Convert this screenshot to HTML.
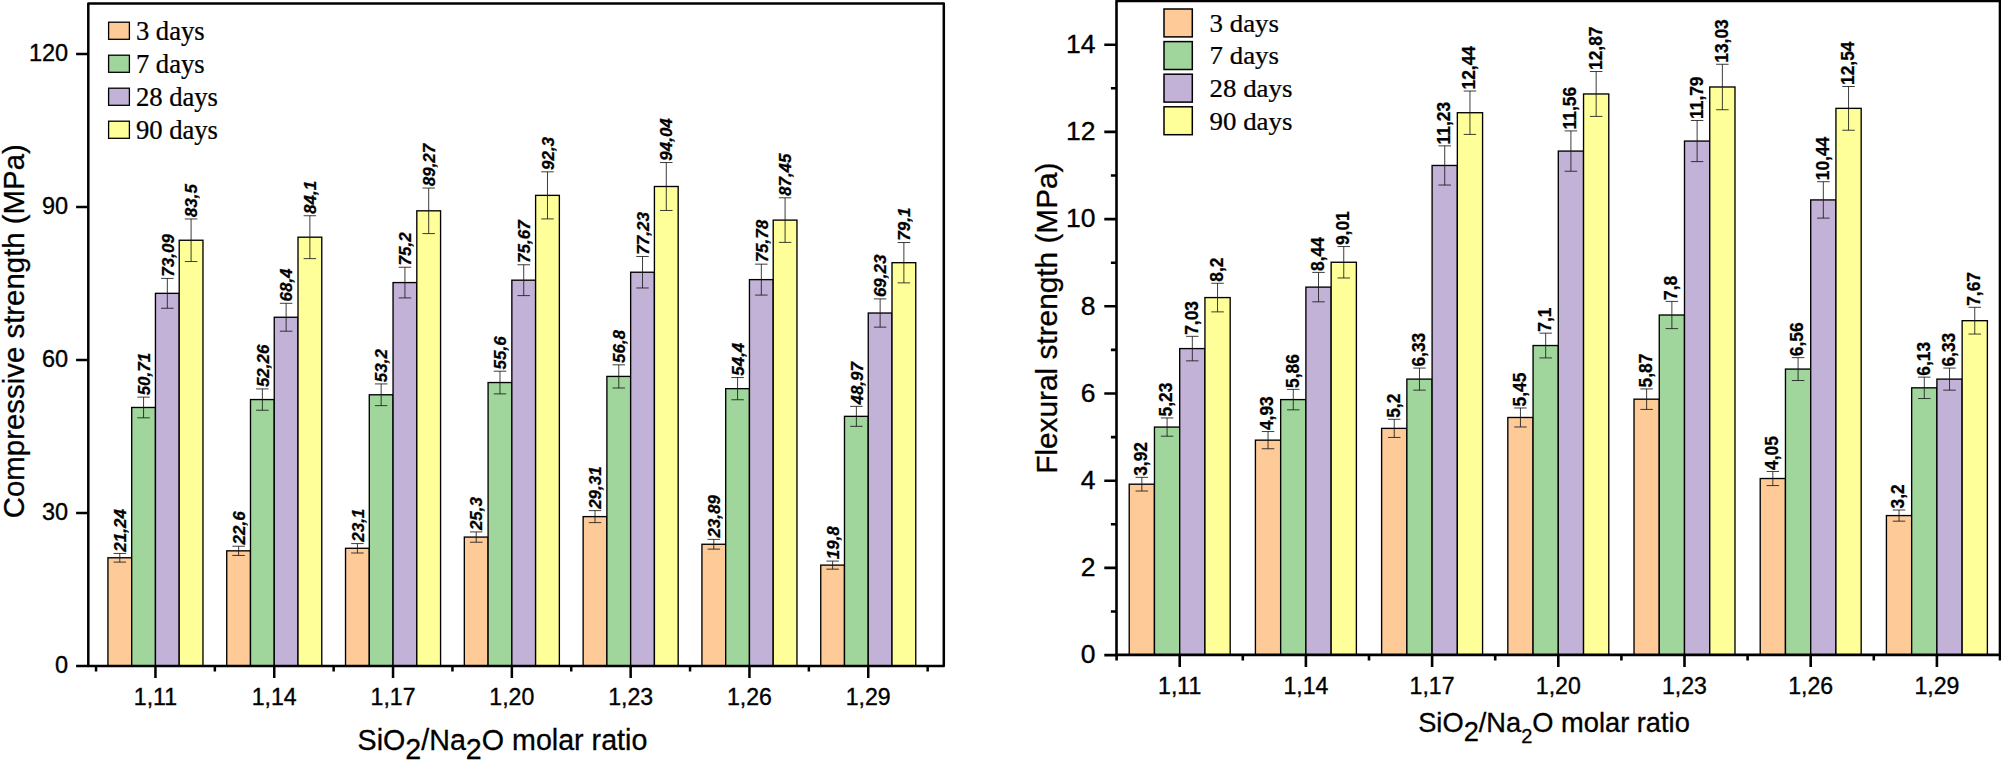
<!DOCTYPE html>
<html lang="en"><head><meta charset="utf-8"><title>Compressive and flexural strength vs SiO2/Na2O molar ratio</title>
<style>html,body{margin:0;padding:0;background:#fff;}svg{display:block;}</style></head><body>
<svg width="2001" height="768" viewBox="0 0 2001 768">
<rect width="2001" height="768" fill="#fff"/>
<g>
<rect x="107.93" y="557.78" width="23.76" height="108.32" fill="#FDCA98" stroke="#000" stroke-width="1.35"/>
<rect x="131.69" y="407.48" width="23.76" height="258.62" fill="#A0D69C" stroke="#000" stroke-width="1.35"/>
<rect x="155.45" y="293.34" width="23.76" height="372.76" fill="#C3B2D7" stroke="#000" stroke-width="1.35"/>
<rect x="179.21" y="240.25" width="23.76" height="425.85" fill="#FFFF99" stroke="#000" stroke-width="1.35"/>
<rect x="226.73" y="550.84" width="23.76" height="115.26" fill="#FDCA98" stroke="#000" stroke-width="1.35"/>
<rect x="250.49" y="399.57" width="23.76" height="266.53" fill="#A0D69C" stroke="#000" stroke-width="1.35"/>
<rect x="274.25" y="317.26" width="23.76" height="348.84" fill="#C3B2D7" stroke="#000" stroke-width="1.35"/>
<rect x="298.01" y="237.19" width="23.76" height="428.91" fill="#FFFF99" stroke="#000" stroke-width="1.35"/>
<rect x="345.53" y="548.29" width="23.76" height="117.81" fill="#FDCA98" stroke="#000" stroke-width="1.35"/>
<rect x="369.29" y="394.78" width="23.76" height="271.32" fill="#A0D69C" stroke="#000" stroke-width="1.35"/>
<rect x="393.05" y="282.58" width="23.76" height="383.52" fill="#C3B2D7" stroke="#000" stroke-width="1.35"/>
<rect x="416.81" y="210.82" width="23.76" height="455.28" fill="#FFFF99" stroke="#000" stroke-width="1.35"/>
<rect x="464.33" y="537.07" width="23.76" height="129.03" fill="#FDCA98" stroke="#000" stroke-width="1.35"/>
<rect x="488.09" y="382.54" width="23.76" height="283.56" fill="#A0D69C" stroke="#000" stroke-width="1.35"/>
<rect x="511.85" y="280.18" width="23.76" height="385.92" fill="#C3B2D7" stroke="#000" stroke-width="1.35"/>
<rect x="535.61" y="195.37" width="23.76" height="470.73" fill="#FFFF99" stroke="#000" stroke-width="1.35"/>
<rect x="583.13" y="516.62" width="23.76" height="149.48" fill="#FDCA98" stroke="#000" stroke-width="1.35"/>
<rect x="606.89" y="376.42" width="23.76" height="289.68" fill="#A0D69C" stroke="#000" stroke-width="1.35"/>
<rect x="630.65" y="272.23" width="23.76" height="393.87" fill="#C3B2D7" stroke="#000" stroke-width="1.35"/>
<rect x="654.41" y="186.5" width="23.76" height="479.6" fill="#FFFF99" stroke="#000" stroke-width="1.35"/>
<rect x="701.93" y="544.26" width="23.76" height="121.84" fill="#FDCA98" stroke="#000" stroke-width="1.35"/>
<rect x="725.69" y="388.66" width="23.76" height="277.44" fill="#A0D69C" stroke="#000" stroke-width="1.35"/>
<rect x="749.45" y="279.62" width="23.76" height="386.48" fill="#C3B2D7" stroke="#000" stroke-width="1.35"/>
<rect x="773.21" y="220.11" width="23.76" height="446" fill="#FFFF99" stroke="#000" stroke-width="1.35"/>
<rect x="820.73" y="565.12" width="23.76" height="100.98" fill="#FDCA98" stroke="#000" stroke-width="1.35"/>
<rect x="844.49" y="416.35" width="23.76" height="249.75" fill="#A0D69C" stroke="#000" stroke-width="1.35"/>
<rect x="868.25" y="313.03" width="23.76" height="353.07" fill="#C3B2D7" stroke="#000" stroke-width="1.35"/>
<rect x="892.01" y="262.69" width="23.76" height="403.41" fill="#FFFF99" stroke="#000" stroke-width="1.35"/>
<g stroke="#1a1a1a" stroke-width="0.85" fill="none">
<path d="M119.81 553.44V562.11M113.56 553.44H126.06M113.56 562.11H126.06"/>
<path d="M143.57 397.13V417.82M137.32 397.13H149.82M137.32 417.82H149.82"/>
<path d="M167.33 278.43V308.25M161.08 278.43H173.58M161.08 308.25H173.58"/>
<path d="M191.09 218.96V261.54M184.84 218.96H197.34M184.84 261.54H197.34"/>
<path d="M238.61 546.23V555.45M232.36 546.23H244.86M232.36 555.45H244.86"/>
<path d="M262.37 388.91V410.24M256.12 388.91H268.62M256.12 410.24H268.62"/>
<path d="M286.13 303.31V331.21M279.88 303.31H292.38M279.88 331.21H292.38"/>
<path d="M309.89 215.74V258.64M303.64 215.74H316.14M303.64 258.64H316.14"/>
<path d="M357.41 543.58V553M351.16 543.58H363.66M351.16 553H363.66"/>
<path d="M381.17 383.93V405.63M374.92 383.93H387.42M374.92 405.63H387.42"/>
<path d="M404.93 267.24V297.92M398.68 267.24H411.18M398.68 297.92H411.18"/>
<path d="M428.69 188.06V233.59M422.44 188.06H434.94M422.44 233.59H434.94"/>
<path d="M476.21 531.91V542.23M469.96 531.91H482.46M469.96 542.23H482.46"/>
<path d="M499.97 371.2V393.88M493.72 371.2H506.22M493.72 393.88H506.22"/>
<path d="M523.73 264.75V295.62M517.48 264.75H529.98M517.48 295.62H529.98"/>
<path d="M547.49 171.83V218.91M541.24 171.83H553.74M541.24 218.91H553.74"/>
<path d="M595.01 510.64V522.6M588.76 510.64H601.26M588.76 522.6H601.26"/>
<path d="M618.77 364.83V388.01M612.52 364.83H625.02M612.52 388.01H625.02"/>
<path d="M642.53 256.47V287.98M636.28 256.47H648.78M636.28 287.98H648.78"/>
<path d="M666.29 162.52V210.48M660.04 162.52H672.54M660.04 210.48H672.54"/>
<path d="M713.81 539.39V549.13M707.56 539.39H720.06M707.56 549.13H720.06"/>
<path d="M737.57 377.56V399.76M731.32 377.56H743.82M731.32 399.76H743.82"/>
<path d="M761.33 264.16V295.08M755.08 264.16H767.58M755.08 295.08H767.58"/>
<path d="M785.09 197.81V242.4M778.84 197.81H791.34M778.84 242.4H791.34"/>
<path d="M832.61 561.08V569.16M826.36 561.08H838.86M826.36 569.16H838.86"/>
<path d="M856.37 406.36V426.34M850.12 406.36H862.62M850.12 426.34H862.62"/>
<path d="M880.13 298.9V327.15M873.88 298.9H886.38M873.88 327.15H886.38"/>
<path d="M903.89 242.52V282.86M897.64 242.52H910.14M897.64 282.86H910.14"/>
</g>
<g font-family='"Liberation Sans", Arial, sans-serif' font-size="17" font-weight="bold" font-style="italic" fill="#000" stroke="#000" stroke-width="0.3">
<text transform="translate(126.01 551.64) rotate(-90)">21,24</text>
<text transform="translate(149.77 395.33) rotate(-90)">50,71</text>
<text transform="translate(173.53 276.63) rotate(-90)">73,09</text>
<text transform="translate(197.29 217.16) rotate(-90)">83,5</text>
<text transform="translate(244.81 544.43) rotate(-90)">22,6</text>
<text transform="translate(268.57 387.11) rotate(-90)">52,26</text>
<text transform="translate(292.33 301.51) rotate(-90)">68,4</text>
<text transform="translate(316.09 213.94) rotate(-90)">84,1</text>
<text transform="translate(363.61 541.78) rotate(-90)">23,1</text>
<text transform="translate(387.37 382.13) rotate(-90)">53,2</text>
<text transform="translate(411.13 265.44) rotate(-90)">75,2</text>
<text transform="translate(434.89 186.26) rotate(-90)">89,27</text>
<text transform="translate(482.41 530.11) rotate(-90)">25,3</text>
<text transform="translate(506.17 369.4) rotate(-90)">55,6</text>
<text transform="translate(529.93 262.95) rotate(-90)">75,67</text>
<text transform="translate(553.69 170.03) rotate(-90)">92,3</text>
<text transform="translate(601.21 508.84) rotate(-90)">29,31</text>
<text transform="translate(624.97 363.03) rotate(-90)">56,8</text>
<text transform="translate(648.73 254.67) rotate(-90)">77,23</text>
<text transform="translate(672.49 160.72) rotate(-90)">94,04</text>
<text transform="translate(720.01 537.59) rotate(-90)">23,89</text>
<text transform="translate(743.77 375.76) rotate(-90)">54,4</text>
<text transform="translate(767.53 262.36) rotate(-90)">75,78</text>
<text transform="translate(791.29 196.01) rotate(-90)">87,45</text>
<text transform="translate(838.81 559.28) rotate(-90)">19,8</text>
<text transform="translate(862.57 404.56) rotate(-90)">48,97</text>
<text transform="translate(886.33 297.1) rotate(-90)">69,23</text>
<text transform="translate(910.09 240.72) rotate(-90)">79,1</text>
</g>
<rect x="88.3" y="3.6" width="855.5" height="662.3" fill="none" stroke="#000" stroke-width="2.5" stroke-linejoin="round"/>
<path d="M76.1 666.1H88.3M76.1 513.1H88.3M76.1 360.1H88.3M76.1 207.1H88.3M76.1 54.1H88.3M155.45 665.9V678.1M274.25 665.9V678.1M393.05 665.9V678.1M511.85 665.9V678.1M630.65 665.9V678.1M749.45 665.9V678.1M868.25 665.9V678.1M96.05 665.9V671.5M214.85 665.9V671.5M333.65 665.9V671.5M452.45 665.9V671.5M571.25 665.9V671.5M690.05 665.9V671.5M808.85 665.9V671.5M927.65 665.9V671.5" stroke="#000" stroke-width="2.5" fill="none"/>
<g font-family='"Liberation Sans", Arial, sans-serif' font-size="23.5" fill="#000" stroke="#000" stroke-width="0.35" text-anchor="end">
<text x="68.1" y="673.1">0</text>
<text x="68.1" y="520.1">30</text>
<text x="68.1" y="367.1">60</text>
<text x="68.1" y="214.1">90</text>
<text x="68.1" y="61.1">120</text>
</g>
<g font-family='"Liberation Sans", Arial, sans-serif' font-size="23.1" fill="#000" stroke="#000" stroke-width="0.35" text-anchor="middle">
<text x="155.45" y="704.6">1,11</text>
<text x="274.25" y="704.6">1,14</text>
<text x="393.05" y="704.6">1,17</text>
<text x="511.85" y="704.6">1,20</text>
<text x="630.65" y="704.6">1,23</text>
<text x="749.45" y="704.6">1,26</text>
<text x="868.25" y="704.6">1,29</text>
</g>
<g font-family='"Liberation Serif", "Times New Roman", serif' font-size="27.6" fill="#000" stroke="#000" stroke-width="0.25">
<rect x="108.6" y="22.2" width="20.8" height="17.1" fill="#FDCA98" stroke="#000" stroke-width="1.3"/>
<text transform="translate(135.9 39.6) scale(0.965 1)">3 days</text>
<rect x="108.6" y="55.2" width="20.8" height="17.1" fill="#A0D69C" stroke="#000" stroke-width="1.3"/>
<text transform="translate(135.9 72.6) scale(0.965 1)">7 days</text>
<rect x="108.6" y="88.2" width="20.8" height="17.1" fill="#C3B2D7" stroke="#000" stroke-width="1.3"/>
<text transform="translate(135.9 105.6) scale(0.965 1)">28 days</text>
<rect x="108.6" y="121.2" width="20.8" height="17.1" fill="#FFFF99" stroke="#000" stroke-width="1.3"/>
<text transform="translate(135.9 138.6) scale(0.965 1)">90 days</text>
</g>
</g>
<g>
<rect x="1129.22" y="484.19" width="25.24" height="170.91" fill="#FDCA98" stroke="#000" stroke-width="1.35"/>
<rect x="1154.46" y="427.07" width="25.24" height="228.03" fill="#A0D69C" stroke="#000" stroke-width="1.35"/>
<rect x="1179.7" y="348.59" width="25.24" height="306.51" fill="#C3B2D7" stroke="#000" stroke-width="1.35"/>
<rect x="1204.94" y="297.58" width="25.24" height="357.52" fill="#FFFF99" stroke="#000" stroke-width="1.35"/>
<rect x="1255.42" y="440.15" width="25.24" height="214.95" fill="#FDCA98" stroke="#000" stroke-width="1.35"/>
<rect x="1280.66" y="399.6" width="25.24" height="255.5" fill="#A0D69C" stroke="#000" stroke-width="1.35"/>
<rect x="1305.9" y="287.12" width="25.24" height="367.98" fill="#C3B2D7" stroke="#000" stroke-width="1.35"/>
<rect x="1331.14" y="262.26" width="25.24" height="392.84" fill="#FFFF99" stroke="#000" stroke-width="1.35"/>
<rect x="1381.62" y="428.38" width="25.24" height="226.72" fill="#FDCA98" stroke="#000" stroke-width="1.35"/>
<rect x="1406.86" y="379.11" width="25.24" height="275.99" fill="#A0D69C" stroke="#000" stroke-width="1.35"/>
<rect x="1432.1" y="165.47" width="25.24" height="489.63" fill="#C3B2D7" stroke="#000" stroke-width="1.35"/>
<rect x="1457.34" y="112.72" width="25.24" height="542.38" fill="#FFFF99" stroke="#000" stroke-width="1.35"/>
<rect x="1507.82" y="417.48" width="25.24" height="237.62" fill="#FDCA98" stroke="#000" stroke-width="1.35"/>
<rect x="1533.06" y="345.54" width="25.24" height="309.56" fill="#A0D69C" stroke="#000" stroke-width="1.35"/>
<rect x="1558.3" y="151.08" width="25.24" height="504.02" fill="#C3B2D7" stroke="#000" stroke-width="1.35"/>
<rect x="1583.54" y="93.97" width="25.24" height="561.13" fill="#FFFF99" stroke="#000" stroke-width="1.35"/>
<rect x="1634.02" y="399.17" width="25.24" height="255.93" fill="#FDCA98" stroke="#000" stroke-width="1.35"/>
<rect x="1659.26" y="315.02" width="25.24" height="340.08" fill="#A0D69C" stroke="#000" stroke-width="1.35"/>
<rect x="1684.5" y="141.06" width="25.24" height="514.04" fill="#C3B2D7" stroke="#000" stroke-width="1.35"/>
<rect x="1709.74" y="86.99" width="25.24" height="568.11" fill="#FFFF99" stroke="#000" stroke-width="1.35"/>
<rect x="1760.22" y="478.52" width="25.24" height="176.58" fill="#FDCA98" stroke="#000" stroke-width="1.35"/>
<rect x="1785.46" y="369.08" width="25.24" height="286.02" fill="#A0D69C" stroke="#000" stroke-width="1.35"/>
<rect x="1810.7" y="199.92" width="25.24" height="455.18" fill="#C3B2D7" stroke="#000" stroke-width="1.35"/>
<rect x="1835.94" y="108.36" width="25.24" height="546.74" fill="#FFFF99" stroke="#000" stroke-width="1.35"/>
<rect x="1886.42" y="515.58" width="25.24" height="139.52" fill="#FDCA98" stroke="#000" stroke-width="1.35"/>
<rect x="1911.66" y="387.83" width="25.24" height="267.27" fill="#A0D69C" stroke="#000" stroke-width="1.35"/>
<rect x="1936.9" y="379.11" width="25.24" height="275.99" fill="#C3B2D7" stroke="#000" stroke-width="1.35"/>
<rect x="1962.14" y="320.69" width="25.24" height="334.41" fill="#FFFF99" stroke="#000" stroke-width="1.35"/>
<g stroke="#1a1a1a" stroke-width="0.85" fill="none">
<path d="M1141.84 477.35V491.02M1135.59 477.35H1148.09M1135.59 491.02H1148.09"/>
<path d="M1167.08 417.95V436.19M1160.83 417.95H1173.33M1160.83 436.19H1173.33"/>
<path d="M1192.32 336.33V360.85M1186.07 336.33H1198.57M1186.07 360.85H1198.57"/>
<path d="M1217.56 283.28V311.88M1211.31 283.28H1223.81M1211.31 311.88H1223.81"/>
<path d="M1268.04 431.55V448.75M1261.79 431.55H1274.29M1261.79 448.75H1274.29"/>
<path d="M1293.28 389.38V409.82M1287.03 389.38H1299.53M1287.03 409.82H1299.53"/>
<path d="M1318.52 272.4V301.84M1312.27 272.4H1324.77M1312.27 301.84H1324.77"/>
<path d="M1343.76 246.55V277.98M1337.51 246.55H1350.01M1337.51 277.98H1350.01"/>
<path d="M1394.24 419.31V437.45M1387.99 419.31H1400.49M1387.99 437.45H1400.49"/>
<path d="M1419.48 368.07V390.15M1413.23 368.07H1425.73M1413.23 390.15H1425.73"/>
<path d="M1444.72 145.89V185.06M1438.47 145.89H1450.97M1438.47 185.06H1450.97"/>
<path d="M1469.96 91.02V134.41M1463.71 91.02H1476.21M1463.71 134.41H1476.21"/>
<path d="M1520.44 407.98V426.98M1514.19 407.98H1526.69M1514.19 426.98H1526.69"/>
<path d="M1545.68 333.16V357.92M1539.43 333.16H1551.93M1539.43 357.92H1551.93"/>
<path d="M1570.92 130.92V171.24M1564.67 130.92H1577.17M1564.67 171.24H1577.17"/>
<path d="M1596.16 71.52V116.41M1589.91 71.52H1602.41M1589.91 116.41H1602.41"/>
<path d="M1646.64 388.93V409.41M1640.39 388.93H1652.89M1640.39 409.41H1652.89"/>
<path d="M1671.88 301.42V328.62M1665.63 301.42H1678.13M1665.63 328.62H1678.13"/>
<path d="M1697.12 120.49V161.62M1690.87 120.49H1703.37M1690.87 161.62H1703.37"/>
<path d="M1722.36 64.27V109.72M1716.11 64.27H1728.61M1716.11 109.72H1728.61"/>
<path d="M1772.84 471.46V485.58M1766.59 471.46H1779.09M1766.59 485.58H1779.09"/>
<path d="M1798.08 357.64V380.52M1791.83 357.64H1804.33M1791.83 380.52H1804.33"/>
<path d="M1823.32 181.71V218.12M1817.07 181.71H1829.57M1817.07 218.12H1829.57"/>
<path d="M1848.56 86.49V130.23M1842.31 86.49H1854.81M1842.31 130.23H1854.81"/>
<path d="M1899.04 510V521.16M1892.79 510H1905.29M1892.79 521.16H1905.29"/>
<path d="M1924.28 377.14V398.52M1918.03 377.14H1930.53M1918.03 398.52H1930.53"/>
<path d="M1949.52 368.07V390.15M1943.27 368.07H1955.77M1943.27 390.15H1955.77"/>
<path d="M1974.76 307.31V334.06M1968.51 307.31H1981.01M1968.51 334.06H1981.01"/>
</g>
<g font-family='"Liberation Sans", Arial, sans-serif' font-size="19" font-weight="bold"  fill="#000" stroke="#000" stroke-width="0.3">
<text transform="translate(1147.24 475.85) rotate(-90) scale(0.915 1)">3,92</text>
<text transform="translate(1172.48 416.45) rotate(-90) scale(0.915 1)">5,23</text>
<text transform="translate(1197.72 334.83) rotate(-90) scale(0.915 1)">7,03</text>
<text transform="translate(1222.96 281.78) rotate(-90) scale(0.915 1)">8,2</text>
<text transform="translate(1273.44 430.05) rotate(-90) scale(0.915 1)">4,93</text>
<text transform="translate(1298.68 387.88) rotate(-90) scale(0.915 1)">5,86</text>
<text transform="translate(1323.92 270.9) rotate(-90) scale(0.915 1)">8,44</text>
<text transform="translate(1349.16 245.05) rotate(-90) scale(0.915 1)">9,01</text>
<text transform="translate(1399.64 417.81) rotate(-90) scale(0.915 1)">5,2</text>
<text transform="translate(1424.88 366.57) rotate(-90) scale(0.915 1)">6,33</text>
<text transform="translate(1450.12 144.39) rotate(-90) scale(0.915 1)">11,23</text>
<text transform="translate(1475.36 89.52) rotate(-90) scale(0.915 1)">12,44</text>
<text transform="translate(1525.84 406.48) rotate(-90) scale(0.915 1)">5,45</text>
<text transform="translate(1551.08 331.66) rotate(-90) scale(0.915 1)">7,1</text>
<text transform="translate(1576.32 129.42) rotate(-90) scale(0.915 1)">11,56</text>
<text transform="translate(1601.56 70.02) rotate(-90) scale(0.915 1)">12,87</text>
<text transform="translate(1652.04 387.43) rotate(-90) scale(0.915 1)">5,87</text>
<text transform="translate(1677.28 299.92) rotate(-90) scale(0.915 1)">7,8</text>
<text transform="translate(1702.52 118.99) rotate(-90) scale(0.915 1)">11,79</text>
<text transform="translate(1727.76 62.77) rotate(-90) scale(0.915 1)">13,03</text>
<text transform="translate(1778.24 469.96) rotate(-90) scale(0.915 1)">4,05</text>
<text transform="translate(1803.48 356.14) rotate(-90) scale(0.915 1)">6,56</text>
<text transform="translate(1828.72 180.21) rotate(-90) scale(0.915 1)">10,44</text>
<text transform="translate(1853.96 84.99) rotate(-90) scale(0.915 1)">12,54</text>
<text transform="translate(1904.44 508.5) rotate(-90) scale(0.915 1)">3,2</text>
<text transform="translate(1929.68 375.64) rotate(-90) scale(0.915 1)">6,13</text>
<text transform="translate(1954.92 366.57) rotate(-90) scale(0.915 1)">6,33</text>
<text transform="translate(1980.16 305.81) rotate(-90) scale(0.915 1)">7,67</text>
</g>
<rect x="1116.5" y="1" width="883.5" height="653.9" fill="none" stroke="#000" stroke-width="2.6" stroke-linejoin="round"/>
<path d="M1104.3 655.1H1116.5M1104.3 567.9H1116.5M1104.3 480.7H1116.5M1104.3 393.5H1116.5M1104.3 306.3H1116.5M1104.3 219.1H1116.5M1104.3 131.9H1116.5M1104.3 44.7H1116.5M1110.9 611.5H1116.5M1110.9 524.3H1116.5M1110.9 437.1H1116.5M1110.9 349.9H1116.5M1110.9 262.7H1116.5M1110.9 175.5H1116.5M1110.9 88.3H1116.5M1179.7 654.9V667.1M1305.9 654.9V667.1M1432.1 654.9V667.1M1558.3 654.9V667.1M1684.5 654.9V667.1M1810.7 654.9V667.1M1936.9 654.9V667.1M1116.6 654.9V660.5M1242.8 654.9V660.5M1369 654.9V660.5M1495.2 654.9V660.5M1621.4 654.9V660.5M1747.6 654.9V660.5M1873.8 654.9V660.5M2000 654.9V660.5" stroke="#000" stroke-width="2.6" fill="none"/>
<g font-family='"Liberation Sans", Arial, sans-serif' font-size="26.5" fill="#000" stroke="#000" stroke-width="0.35" text-anchor="end">
<text x="1095.5" y="663.3">0</text>
<text x="1095.5" y="576.1">2</text>
<text x="1095.5" y="488.9">4</text>
<text x="1095.5" y="401.7">6</text>
<text x="1095.5" y="314.5">8</text>
<text x="1095.5" y="227.3">10</text>
<text x="1095.5" y="140.1">12</text>
<text x="1095.5" y="52.9">14</text>
</g>
<g font-family='"Liberation Sans", Arial, sans-serif' font-size="23.1" fill="#000" stroke="#000" stroke-width="0.35" text-anchor="middle">
<text x="1179.7" y="693.75">1,11</text>
<text x="1305.9" y="693.75">1,14</text>
<text x="1432.1" y="693.75">1,17</text>
<text x="1558.3" y="693.75">1,20</text>
<text x="1684.5" y="693.75">1,23</text>
<text x="1810.7" y="693.75">1,26</text>
<text x="1936.9" y="693.75">1,29</text>
</g>
<g font-family='"Liberation Serif", "Times New Roman", serif' font-size="26.2" fill="#000" stroke="#000" stroke-width="0.25">
<rect x="1164" y="9" width="28.3" height="27.9" fill="#FDCA98" stroke="#000" stroke-width="1.5"/>
<text transform="translate(1209.6 31.7) scale(1.025 1)">3 days</text>
<rect x="1164" y="41.6" width="28.3" height="27.9" fill="#A0D69C" stroke="#000" stroke-width="1.5"/>
<text transform="translate(1209.6 64.3) scale(1.025 1)">7 days</text>
<rect x="1164" y="74.2" width="28.3" height="27.9" fill="#C3B2D7" stroke="#000" stroke-width="1.5"/>
<text transform="translate(1209.6 96.9) scale(1.025 1)">28 days</text>
<rect x="1164" y="106.8" width="28.3" height="27.9" fill="#FFFF99" stroke="#000" stroke-width="1.5"/>
<text transform="translate(1209.6 129.5) scale(1.025 1)">90 days</text>
</g>
</g>
<text x="357.6" y="749.8" font-family='"Liberation Sans", Arial, sans-serif' font-size="28.65" fill="#000" stroke="#000" stroke-width="0.3">SiO<tspan font-size="28.65" dy="8.8">2</tspan><tspan dy="-8.8">/Na</tspan><tspan font-size="28.65" dy="8.8">2</tspan><tspan dy="-8.8">O molar ratio</tspan></text>
<text x="1418.2" y="732.3" font-family='"Liberation Sans", Arial, sans-serif' font-size="27.25" fill="#000" stroke="#000" stroke-width="0.3">SiO<tspan font-size="27.25" dy="8.2">2</tspan><tspan dy="-8.2">/Na</tspan><tspan font-size="20" dy="10.6">2</tspan><tspan dy="-10.6">O molar ratio</tspan></text>
<text transform="translate(24.3 518.2) rotate(-90)" font-family='"Liberation Sans", Arial, sans-serif' font-size="29.4" fill="#000" stroke="#000" stroke-width="0.3">Compressive strength (MPa)</text>
<text transform="translate(1056.9 473.8) rotate(-90)" font-family='"Liberation Sans", Arial, sans-serif' font-size="29.8" fill="#000" stroke="#000" stroke-width="0.3">Flexural strength (MPa)</text>
</svg></body></html>
